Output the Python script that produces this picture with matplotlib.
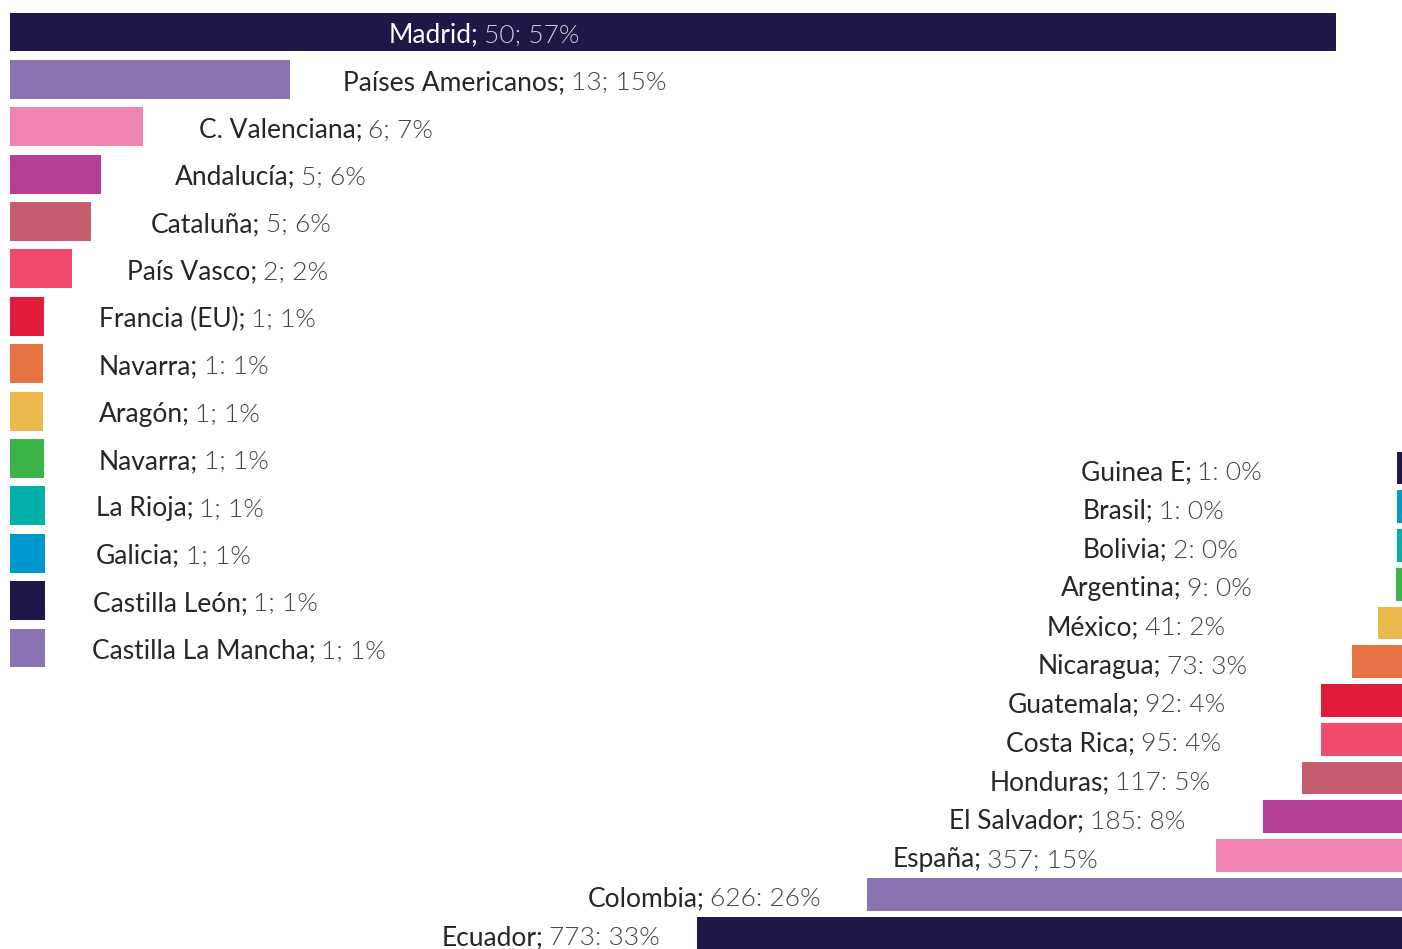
import matplotlib.pyplot as plt

# regiones (left block)
left_names = ["Madrid", "Países Americanos", "C. Valenciana", "Andalucía", "Cataluña",
              "País Vasco", "Francia (EU)", "Navarra", "Aragón", "Navarra",
              "La Rioja", "Galicia", "Castilla León", "Castilla La Mancha"]
left_vals = ["50; 57%", "13; 15%", "6; 7%", "5; 6%", "5; 6%", "2; 2%", "1; 1%",
             "1: 1%", "1; 1%", "1; 1%", "1; 1%", "1; 1%", "1; 1%", "1; 1%"]
# bar lengths as drawn in the picture (not proportional to the counts)
left_len = [1326, 280, 133, 91, 81, 62, 34, 33, 33, 34, 35, 35, 35, 35]
left_colors = ["#1f1748", "#8b73b3", "#ef83b2", "#b43f96", "#c45e6f", "#f04a6f",
               "#e01c3a", "#e67445", "#ecb94f", "#3bb54a", "#00b0a9", "#0099cf",
               "#1f1748", "#8b73b3"]

# paises (right block)
right_names = ["Guinea E", "Brasil", "Bolivia", "Argentina", "México", "Nicaragua",
               "Guatemala", "Costa Rica", "Honduras", "El Salvador", "España",
               "Colombia", "Ecuador"]
right_vals = ["1: 0%", "1: 0%", "2: 0%", "9: 0%", "41: 2%", "73: 3%", "92: 4%",
              "95: 4%", "117: 5%", "185: 8%", "357; 15%", "626: 26%", "773: 33%"]
right_len = [5, 5, 5, 6, 24, 50, 81, 81, 100, 139, 186, 535, 705]
right_colors = ["#1f1748", "#0099cf", "#00b0a9", "#3bb54a", "#ecb94f", "#e67445",
                "#e01c3a", "#f04a6f", "#c45e6f", "#b43f96", "#ef83b2", "#8b73b3",
                "#1f1748"]

# label placement (px gaps)
left_gap = [None, 53, 56, 74, 60, 55, 55, 56, 56, 55, 51, 51, 48, 47]
right_gap = [135, 173, 159, 144, 153, 105, 96, 100, 92, 78, 118, 46, 37]

W, H = 1402, 949
fig = plt.figure(figsize=(W / 100, H / 100), dpi=100)

name_font = dict(family="Lato", weight=400, size=19, color="#262626")
val_font = dict(family="Lato", weight=300, size=19, color="#444444")

# left axes: rows 32..648 px
step = (648 - 32) / 13
top, bot = 32 - step / 2, 648 + step / 2
axl = fig.add_axes([10 / W, 1 - bot / H, (W - 10) / W, (bot - top) / H])
axl.barh(range(len(left_len)), left_len, height=0.82, color=left_colors)
axl.set_xlim(0, W - 10)
axl.set_ylim(len(left_len) - 0.5, -0.5)
axl.axis("off")

for i, (n, v, L, g) in enumerate(zip(left_names, left_vals, left_len, left_gap)):
    if g is None:
        x, c1, c2 = 379, "white", "#cfcde0"
    else:
        x, c1, c2 = L + g, name_font["color"], val_font["color"]
    t = axl.annotate(n + ";", xy=(x, i), xytext=(0, -2.2), textcoords="offset points",
                     ha="left", va="center", **{**name_font, "color": c1})
    axl.annotate(v, xy=(1, 0), xycoords=t, xytext=(4, 0), textcoords="offset points",
                 ha="left", va="bottom", **{**val_font, "color": c2})

# right axes: rows 468..933 px, bars from the right edge
step = (933 - 468) / 12
top, bot = 468 - step / 2, 933 + step / 2
axr = fig.add_axes([0, 1 - bot / H, 1, (bot - top) / H])
axr.barh(range(len(right_len)), right_len, height=0.85, color=right_colors)
axr.set_xlim(W, 0)
axr.set_ylim(len(right_len) - 0.5, -0.5)
axr.axis("off")

for i, (n, v, L, g) in enumerate(zip(right_names, right_vals, right_len, right_gap)):
    t = axr.annotate(v, xy=(L + g, i), xytext=(0, -3.6), textcoords="offset points",
                     ha="right", va="center", **val_font)
    axr.annotate(n + ";", xy=(0, 0), xycoords=t, xytext=(-4, 0),
                 textcoords="offset points", ha="right", va="bottom", **name_font)

fig.savefig("out.png", dpi=100)
